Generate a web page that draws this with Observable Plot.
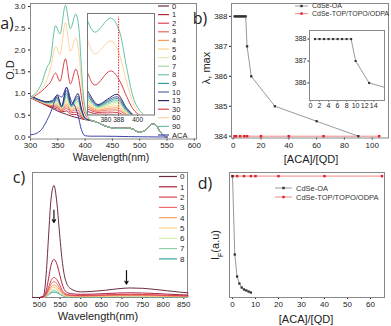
<!DOCTYPE html>
<html><head><meta charset="utf-8">
<script src="https://cdn.jsdelivr.net/npm/d3@7"></script>
<script src="https://cdn.jsdelivr.net/npm/@observablehq/plot@0.6"></script>
<style>
body{margin:0;background:#fff;}
#root{position:relative;width:391px;height:326px;overflow:hidden;font-family:"Liberation Sans",Arial,sans-serif;color:#222;background:#fff;}
.t{position:absolute;white-space:nowrap;line-height:1;}
.pl{font-family:"Open Sans",sans-serif;}
</style></head><body><div id="root"></div>
<script>
// ---------- Panel a: absorption spectra ----------
const absSeries = ["0","1","2","3","4","5","6","7","8","9","10","13","30","60","90","ACA"];
const absColors = ["#6e2c40","#b5283f","#d8434f","#ee6a57","#f89a5a","#fdd38a","#e3eea6","#a7d9a6","#6cc4a9","#3a9aa4","#5a66ae","#2e2d6b","#d8434f","#fdd49e","#66c2a5","#3c46a8"];
const gridLow = [300,310,320,330,340,349,357,366,375,381,387,393,400,410];
const od0  = [0.90,0.84,0.78,0.72,0.66,0.60,0.56,0.52,0.48,0.46,0.44,0.42,0.40,0.38];
const od1  = [0.91,0.85,0.79,0.73,0.68,0.64,0.58,0.60,0.52,0.52,0.50,0.45,0.41,0.38];
const od2  = [0.91,0.85,0.79,0.74,0.70,0.68,0.60,0.66,0.56,0.57,0.56,0.47,0.41,0.38];
const od3  = [0.92,0.86,0.80,0.75,0.72,0.71,0.62,0.71,0.59,0.62,0.62,0.50,0.41,0.38];
const od4  = [0.92,0.86,0.80,0.76,0.73,0.74,0.63,0.76,0.62,0.66,0.67,0.52,0.42,0.38];
const od5  = [0.92,0.86,0.81,0.77,0.75,0.77,0.65,0.81,0.64,0.70,0.72,0.54,0.42,0.38];
const od6  = [0.92,0.87,0.81,0.77,0.76,0.80,0.66,0.86,0.66,0.73,0.77,0.56,0.42,0.38];
const od7  = [0.93,0.87,0.82,0.78,0.78,0.83,0.67,0.91,0.68,0.76,0.82,0.58,0.42,0.38];
const od8  = [0.93,0.87,0.82,0.79,0.79,0.86,0.68,0.96,0.70,0.79,0.86,0.60,0.43,0.38];
const od9  = [0.93,0.88,0.83,0.80,0.81,0.89,0.69,1.01,0.72,0.82,0.90,0.62,0.43,0.38];
const od10 = [0.94,0.88,0.83,0.80,0.82,0.92,0.70,1.07,0.73,0.85,0.94,0.64,0.43,0.38];
const od13 = [0.94,0.89,0.84,0.81,0.84,0.96,0.71,1.15,0.75,0.88,1.00,0.67,0.44,0.38];
const odACA = [0.05,0.08,0.17,0.38,0.66,0.97,0.92,1.13,0.82,0.72,0.50,0.18,0.03,0.02];
const gridHigh = [300,310,320,330,336,346,354,364,373,383,389,393,397,402,410];
const od30 = [0.90,0.96,1.05,1.17,1.25,1.47,1.28,1.80,1.22,1.56,1.30,0.95,0.65,0.48,0.39];
const od60 = [0.90,0.98,1.10,1.32,1.55,2.08,1.90,2.63,1.97,2.28,1.90,1.30,0.80,0.52,0.39];
const od90 = [0.92,1.02,1.22,1.60,1.75,2.56,2.37,3.03,2.49,2.83,2.45,1.65,0.95,0.58,0.40];
const tailNm = [420,430,440,450,460,470,478,488,498,508,517,524,530,536,543,550];
const tailOD = [0.35,0.29,0.24,0.21,0.20,0.20,0.21,0.18,0.11,0.14,0.25,0.30,0.27,0.15,0.04,0.00];
const acaTailNm = [430,480,550];
const acaTailOD = [0.02,0.01,0.00];
const lambdaMax = 388;
const insetATicks = [380,388,400];

// ---------- Panel b: lambda max ----------
const oaX = [1,2,3,4,5,6,7,8,9,10,13,30,60,90];
const oaLambda = [388,388,388,388,388,388,388,388,388,387,386,385,384.5,384];
const topX = [1,2,5,8,10,20,40,65,105];
const topLambda = [384,384,384,384,384,384,384,384,384];

// ---------- Panel c: PL spectra ----------
const plSeries = ["0","1","2","3","4","5","6","7","8"];
const plColors = ["#6e2c40","#b0203f","#d8434f","#ee6b6b","#f9a05a","#fdd38a","#d9ecb0","#8fd0a8","#3ca59a"];
const plNm = [483,500,510,517,522,528,535,542,548,555,562,575,600,630,660,690,720,750,780,810,840,860];
const pl0 = [0,0,0.02,0.25,0.55,0.88,1.0,0.85,0.6,0.33,0.17,0.08,0.05,0.055,0.065,0.078,0.085,0.082,0.072,0.06,0.048,0.042];
const pl1 = [0,0,0.01,0.07,0.17,0.29,0.34,0.3,0.22,0.12,0.06,0.035,0.028,0.03,0.035,0.04,0.042,0.04,0.036,0.03,0.025,0.022];
const pl2 = [0,0,0.005,0.04,0.09,0.15,0.18,0.16,0.12,0.065,0.035,0.022,0.018,0.02,0.024,0.027,0.028,0.027,0.024,0.02,0.017,0.015];
const pl3 = [0,0,0.004,0.03,0.07,0.12,0.14,0.125,0.09,0.05,0.028,0.018,0.015,0.016,0.019,0.021,0.022,0.021,0.019,0.016,0.014,0.012];
const pl4 = [0,0,0.003,0.024,0.055,0.094,0.11,0.098,0.072,0.04,0.022,0.014,0.012,0.013,0.015,0.017,0.018,0.017,0.015,0.013,0.011,0.01];
const pl5 = [0,0,0.002,0.02,0.045,0.077,0.09,0.08,0.058,0.032,0.018,0.012,0.01,0.011,0.012,0.014,0.015,0.014,0.012,0.011,0.009,0.008];
const pl6 = [0,0,0.002,0.016,0.037,0.064,0.075,0.067,0.049,0.027,0.015,0.01,0.008,0.009,0.01,0.011,0.012,0.011,0.01,0.009,0.008,0.007];
const pl7 = [0,0,0.001,0.013,0.03,0.051,0.06,0.053,0.039,0.022,0.012,0.008,0.007,0.007,0.008,0.009,0.01,0.009,0.008,0.007,0.006,0.006];
const pl8 = [0,0,0.001,0.01,0.024,0.041,0.048,0.043,0.031,0.017,0.01,0.007,0.006,0.006,0.007,0.007,0.008,0.007,0.007,0.006,0.005,0.005];
const arrowNm = [535,711];
const arrowFrom = [0.78,0.24];
const arrowTo = [0.67,0.12];

// ---------- Panel d: PL intensity ----------
const dOaX = [0,1,2,3,4,5,6,7,8];
const dOaI = [1.0,0.354,0.173,0.115,0.082,0.066,0.058,0.049,0.041];
const dTopX = [0,2,5,8,10,20,40,65];
const dTopI = [1,1,1,1,1,1,1,1];
const legendNames = ["CdSe-OA","CdSe-TOP/TOPO/ODPA"];

// ======================================================
const root = document.getElementById("root");
const FONT = "'Liberation Sans', Arial, sans-serif";
function put(node, left, top){ node.style.position="absolute"; node.style.left=left+"px"; node.style.top=top+"px"; node.style.maxWidth="none"; root.appendChild(node); return node; }
function txt(text, x, y, size, rot, cls, html){
  const d=document.createElement("div"); d.className="t"+(cls?" "+cls:"");
  if(html) d.innerHTML=text; else d.textContent=text;
  d.style.left=x+"px"; d.style.top=y+"px"; d.style.fontSize=size+"px";
  d.style.transform="translate(-50%,-50%)"+(rot?" rotate(-90deg)":"");
  root.appendChild(d);
}
const st = (fs)=>({fontSize:fs+"px", fontFamily:FONT, color:"#222", background:"transparent", overflow:"visible"});

// build absorption table
const absArrays = [od0,od1,od2,od3,od4,od5,od6,od7,od8,od9,od10,od13,od30,od60,od90,odACA];
const absRows = [];
absSeries.forEach((s,k)=>{
  const grid = (s==="30"||s==="60"||s==="90") ? gridHigh : gridLow;
  grid.forEach((nm,i)=>absRows.push({s, nm, od: absArrays[k][i]}));
  if(s==="ACA") acaTailNm.forEach((nm,i)=>absRows.push({s, nm, od: acaTailOD[i]}));
  else tailNm.forEach((nm,i)=>absRows.push({s, nm, od: tailOD[i]}));
});
const absColor = {domain: absSeries, range: absColors};

put(Plot.plot({
  width:200, height:160, marginLeft:30, marginRight:4, marginTop:3, marginBottom:21.5,
  style: st(8),
  x:{domain:[300,604], ticks:[300,350,400,450,500,550,600], tickSize:2, tickPadding:1, label:null},
  y:{domain:[-0.045,3.07], ticks:[0,0.5,1,1.5,2,2.5,3], tickFormat:".1f", tickSize:2, tickPadding:3, label:null},
  color: absColor,
  marks:[
    Plot.frame({stroke:"#888"}),
    Plot.line(absRows,{x:"nm", y:"od", z:"s", stroke:"s", strokeWidth:1, curve:"monotone-x"})
  ]
}), 0, 0);

// inset a
const insetRows = absRows.filter(d=>d.s!=="ACA");
put(Plot.plot({
  width:67, height:112, marginLeft:0, marginRight:0, marginTop:0, marginBottom:10.5,
  style: st(6.5),
  x:{domain:[368.4,410.6], ticks:insetATicks, tickSize:1.5, tickPadding:1, label:null},
  y:{domain:[0.5,2.94], axis:null},
  color: absColor,
  marks:[
    Plot.frame({fill:"white", stroke:"none"}),
    Plot.line(insetRows,{x:"nm", y:"od", z:"s", stroke:"s", strokeWidth:1, curve:"monotone-x", clip:true}),
    Plot.ruleX([lambdaMax],{y1:0.5, y2:2.85, stroke:"#e8202a", strokeWidth:1, strokeDasharray:"1.5,1.2"}),
    Plot.frame({stroke:"#777"})
  ]
}), 87.3, 13);

// legend a
(function(){
  const svg = d3.create("svg").attr("width",36).attr("height",140).style("overflow","visible");
  absSeries.forEach((s,i)=>{
    const y = 6 + i*8.6;
    svg.append("line").attr("x1",0).attr("x2",11).attr("y1",y).attr("y2",y).attr("stroke",absColors[i]).attr("stroke-width",1.2);
    svg.append("text").attr("x",14).attr("y",y).attr("dy","0.35em").attr("font-size",7.5).attr("font-family",FONT).attr("fill","#222").text(s);
  });
  put(svg.node(), 158, 0);
})();

// ---------- panel b ----------
const oaRows = oaX.map((x,i)=>({x, y:oaLambda[i]}));
const topRows = topX.map((x,i)=>({x, y:topLambda[i]}));
put(Plot.plot({
  width:196, height:165, marginLeft:36, marginRight:3, marginTop:3, marginBottom:27.5,
  style: st(8),
  x:{domain:[-1.2,111.7], ticks:[0,20,40,60,80,100], tickSize:2, tickPadding:2, label:null},
  y:{domain:[383.94,388.43], ticks:[384,385,386,387,388], tickFormat:"d", tickSize:2, tickPadding:2, label:null},
  marks:[
    Plot.frame({stroke:"#888"}),
    Plot.line(topRows,{x:"x", y:"y", stroke:"#f08a8a", strokeWidth:1}),
    Plot.dot(topRows,{x:"x", y:"y", symbol:"square", r:1.4, fill:"#e8202a", stroke:"none"}),
    Plot.line(oaRows,{x:"x", y:"y", stroke:"#9a9a9a", strokeWidth:1}),
    Plot.dot(oaRows,{x:"x", y:"y", symbol:"square", r:1.3, fill:"#333", stroke:"none"})
  ]
}), 195, 0);

put(Plot.plot({
  width:96, height:85, marginLeft:19, marginRight:2, marginTop:5, marginBottom:10,
  style: st(7),
  x:{domain:[-0.22,16.4], ticks:[0,2,4,6,8,10,12,14], tickSize:1.5, tickPadding:1, label:null},
  y:{domain:[385.2,388.39], ticks:[386,387,388], tickFormat:"d", tickSize:1.5, tickPadding:1.5, label:null},
  marks:[
    Plot.frame({fill:"white", stroke:"none"}),
    Plot.line(oaRows,{x:"x", y:"y", stroke:"#9a9a9a", strokeWidth:1, clip:true}),
    Plot.dot(oaRows.filter(d=>d.x<=16),{x:"x", y:"y", symbol:"square", r:1.2, fill:"#333", stroke:"none"}),
    Plot.frame({stroke:"#888"})
  ]
}), 290, 25);

function lineLegend(left, top, dy, fs, len, gap){
  const svg = d3.create("svg").attr("width",100).attr("height",30).style("overflow","visible");
  const cols = [["#9a9a9a","#333"],["#f08a8a","#e8202a"]];
  legendNames.forEach((n,i)=>{
    const y = i*dy;
    svg.append("line").attr("x1",0).attr("x2",len).attr("y1",y).attr("y2",y).attr("stroke",cols[i][0]).attr("stroke-width",1);
    svg.append("rect").attr("x",len/2-1.2).attr("y",y-1.2).attr("width",2.4).attr("height",2.4).attr("fill",cols[i][1]);
    svg.append("text").attr("x",len+gap).attr("y",y).attr("dy","0.35em").attr("font-size",fs).attr("font-family",FONT).attr("fill","#333").text(n);
  });
  put(svg.node(), left, top);
}
lineLegend(295, 5.7, 7.6, 7, 13, 4);

// ---------- panel c ----------
const plArrays = [pl0,pl1,pl2,pl3,pl4,pl5,pl6,pl7,pl8];
const plRows = [];
plSeries.forEach((s,k)=>plNm.forEach((nm,i)=>plRows.push({s, nm, v: plArrays[k][i]})));
const arrowRows = arrowNm.map((x,i)=>({x, y1:arrowFrom[i], y2:arrowTo[i]}));
put(Plot.plot({
  width:195, height:161, marginLeft:32, marginRight:8, marginTop:7, marginBottom:29,
  style: st(8),
  x:{domain:[483,859], ticks:[500,550,600,650,700,750,800,850], tickSize:2, tickPadding:2, label:null},
  y:{domain:[0,1.116], axis:null},
  color:{domain:plSeries, range:plColors},
  marks:[
    Plot.frame({stroke:"#888"}),
    Plot.line(plRows.slice().reverse(),{x:"nm", y:"v", z:"s", stroke:"s", strokeWidth:1, curve:"monotone-x"}),
    Plot.arrow(arrowRows,{x:"x", y1:"y1", y2:"y2", stroke:"#111", strokeWidth:1.2, headLength:4})
  ]
}), 0, 165);

(function(){
  const svg = d3.create("svg").attr("width",30).attr("height",95).style("overflow","visible");
  plSeries.forEach((s,i)=>{
    const y = 176.5 - 165 + i*10.3;
    svg.append("line").attr("x1",0).attr("x2",18).attr("y1",y).attr("y2",y).attr("stroke",plColors[i]).attr("stroke-width",1.2);
    svg.append("text").attr("x",21).attr("y",y).attr("dy","0.35em").attr("font-size",8).attr("font-family",FONT).attr("fill","#222").text(s);
  });
  put(svg.node(), 158.5, 165);
})();

// ---------- panel d ----------
const dOaRows = dOaX.map((x,i)=>({x, y:dOaI[i]}));
const dTopRows = dTopX.map((x,i)=>({x, y:dTopI[i]}));
put(Plot.plot({
  width:196, height:161, marginLeft:34, marginRight:7, marginTop:7, marginBottom:29,
  style: st(8),
  x:{domain:[-1.3,66.1], ticks:[0,10,20,30,40,50,60], tickSize:2, tickPadding:2, label:null},
  y:{domain:[0,1.03], axis:null},
  marks:[
    Plot.frame({stroke:"#888"}),
    Plot.line(dTopRows,{x:"x", y:"y", stroke:"#f4a0a0", strokeWidth:1.2}),
    Plot.dot(dTopRows,{x:"x", y:"y", symbol:"square", r:1.4, fill:"#e8202a", stroke:"none"}),
    Plot.line(dOaRows,{x:"x", y:"y", stroke:"#9a9a9a", strokeWidth:1}),
    Plot.dot(dOaRows,{x:"x", y:"y", symbol:"square", r:1.3, fill:"#333", stroke:"none"})
  ]
}), 195, 165);
lineLegend(275, 188, 9, 7.5, 17, 4);

// ---------- titles ----------
txt("a)", 7, 23, 16, false, "pl");
txt("b)", 200, 18, 16, false, "pl");
txt("c)", 19, 177, 16, false, "pl");
txt("d)", 205, 183, 16, false, "pl");
txt("O.D", 10, 70, 11, true);
txt("Wavelength(nm)", 111, 156.5, 10.5);
txt("λ, max", 206, 68, 11, true);
txt("[ACA]/[QD]", 311, 159, 11);
txt("Wavelength(nm)", 98, 316, 11);
txt("I<sub style='font-size:7px'>F</sub>(a.u)", 217, 245, 11, true, "", true);
txt("[ACA]/[QD]", 306, 319, 11);
</script></body></html>
